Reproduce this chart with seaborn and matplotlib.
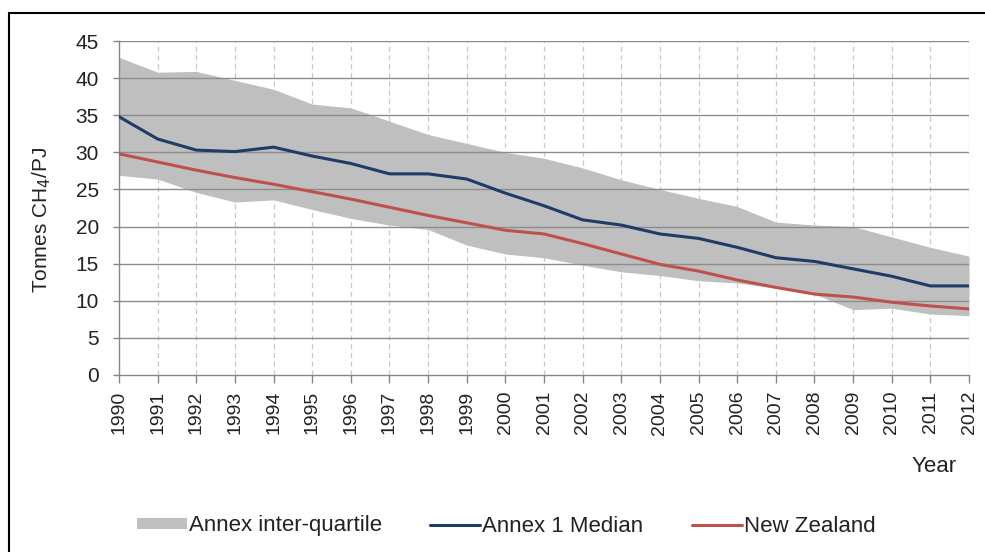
import matplotlib
matplotlib.use('Agg')
import matplotlib.pyplot as plt
from matplotlib.lines import Line2D
from matplotlib.patches import Patch
import seaborn as sns
import pandas as pd
import numpy as np

years = list(range(1990, 2013))
iq_upper = [42.8, 40.8, 40.9, 39.7, 38.5, 36.5, 36.0, 34.2, 32.4, 31.2, 30.0, 29.2,
            27.9, 26.3, 25.0, 23.8, 22.7, 20.6, 20.2, 20.0, 18.6, 17.2, 16.0]
iq_lower = [26.9, 26.4, 24.6, 23.3, 23.6, 22.3, 21.1, 20.2, 19.6, 17.5, 16.3, 15.8,
            14.8, 13.9, 13.4, 12.7, 12.4, 11.7, 10.9, 8.8, 9.0, 8.2, 8.0]
annex_median = [34.8, 31.8, 30.3, 30.1, 30.7, 29.5, 28.5, 27.1, 27.1, 26.4, 24.5, 22.8,
                20.9, 20.2, 19.0, 18.4, 17.2, 15.8, 15.3, 14.3, 13.3, 12.0, 12.0]
new_zealand = [29.8, 28.7, 27.6, 26.6, 25.7, 24.7, 23.7, 22.6, 21.5, 20.5, 19.5, 19.0,
               17.7, 16.3, 14.9, 14.0, 12.8, 11.8, 10.9, 10.5, 9.8, 9.3, 8.9]

df = pd.DataFrame({'year': years, 'median': annex_median, 'nz': new_zealand})

sns.set_style('white')
plt.rcParams['font.family'] = ['Liberation Sans', 'DejaVu Sans']

band_col = '#bfbfbf'
blue = '#1f3b66'
red = '#c0504d'
txt = '#222222'

fig = plt.figure(figsize=(9.85, 5.52), dpi=100)
ax = fig.add_axes([0.1208, 0.3207, 0.8630, 0.6050])

ax.fill_between(years, iq_lower, iq_upper, color=band_col, lw=0, zorder=1)
sns.lineplot(data=df, x='year', y='median', color=blue, lw=2.2, ax=ax, zorder=3)
sns.lineplot(data=df, x='year', y='nz', color=red, lw=2.2, ax=ax, zorder=3)

ax.set_xlim(1990, 2012)
ax.set_ylim(0, 45)
ax.set_yticks(range(0, 46, 5))
ax.set_xticks(years)
ax.set_xticklabels([str(y) for y in years], rotation=90)

for y in range(5, 46, 5):
    ax.axhline(y, color='#8c8c8c', lw=1.0, zorder=2)
for x in years[1:]:
    ax.axvline(x, color='#c8c8c8', lw=0.9, ls=(0, (4, 3)), zorder=0)

for s in ['top', 'right']:
    ax.spines[s].set_visible(False)
for s in ['left', 'bottom']:
    ax.spines[s].set_color('#868686')
    ax.spines[s].set_linewidth(1.0)

ax.tick_params(axis='y', direction='out', length=4.5, width=1, color='#868686',
               labelsize=15, labelcolor=txt, pad=10, left=True)
ax.tick_params(axis='x', direction='out', length=5.5, width=1, color='#868686',
               labelsize=14, labelcolor=txt, pad=6, bottom=True)

ax.set_xlabel('')
ax.set_ylabel('Tonnes CH$_4$/PJ', fontsize=15, color=txt)
ax.yaxis.set_label_coords(-0.078, 0.465)
fig.text(957 / 985, 1 - 467 / 552, 'Year', fontsize=16, color=txt, ha='right', va='center')

# frame around the chart (only top and left edges visible)
fig.add_artist(Line2D([0.009, 1.0], [0.977, 0.977], transform=fig.transFigure,
                      color='black', lw=1.5))
fig.add_artist(Line2D([0.009, 0.009], [0.0, 0.977], transform=fig.transFigure,
                      color='black', lw=1.5))

# legend entries laid out like the original (one small legend per entry)
entries = [(Patch(facecolor=band_col, edgecolor='none'), 'Annex inter-quartile', 137),
           (Line2D([], [], color=blue, lw=2.2), 'Annex 1 Median', 430),
           (Line2D([], [], color=red, lw=2.2), 'New Zealand', 692)]
for h, lab, xpx in entries:
    leg = fig.legend([h], [lab], loc='center left', bbox_to_anchor=(xpx / 985, 1 - 526 / 552),
                     frameon=False, fontsize=16, handlelength=2.25, handleheight=0.4,
                     handletextpad=0.1, borderpad=0, borderaxespad=0)
    for t in leg.get_texts():
        t.set_color(txt)

fig.savefig('out.png', dpi=100)
